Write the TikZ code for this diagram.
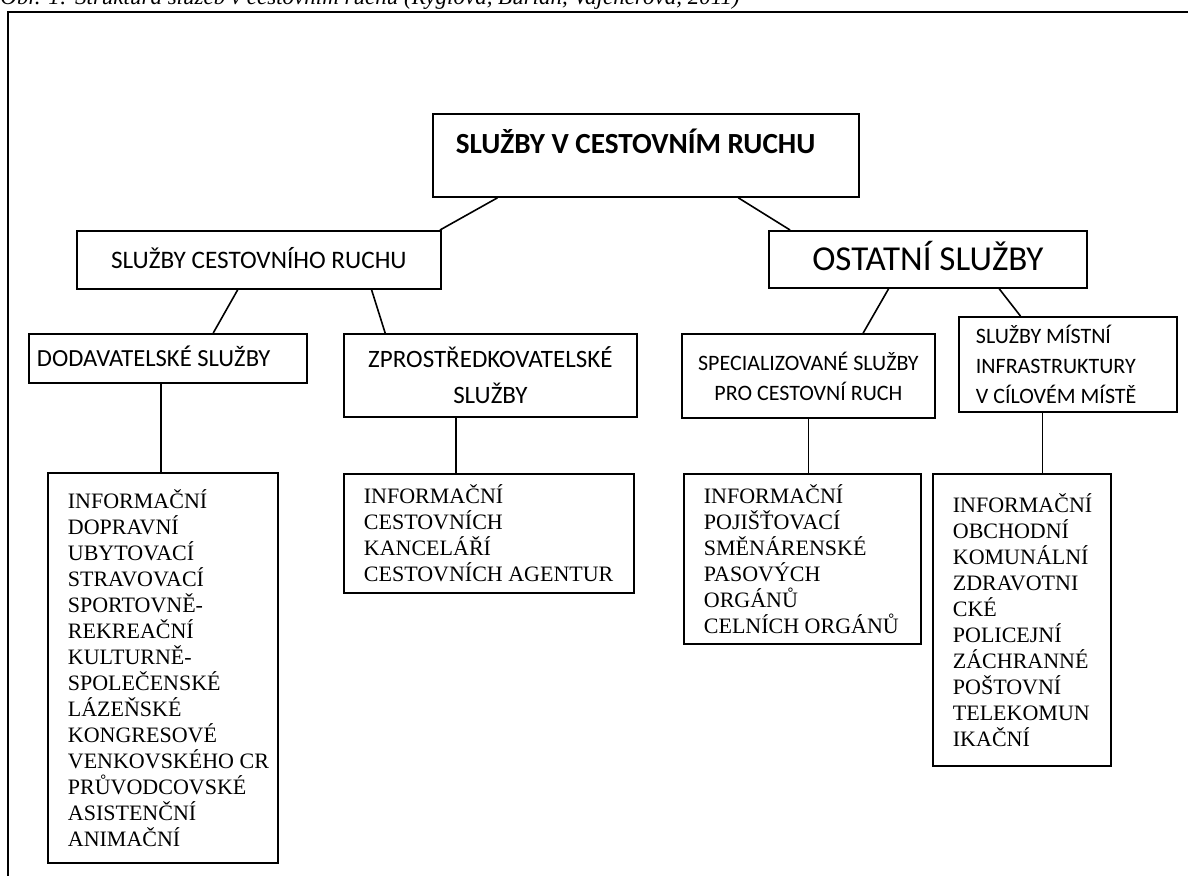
\documentclass[tikz,border=0pt]{standalone}
\usepackage{fontspec}
\setmainfont{Liberation Serif}
\newfontfamily\calibri{Carlito}
\usepackage{tikz}
\usetikzlibrary{calc}

\begin{document}
\begin{tikzpicture}[x=0.5pt,y=-0.5pt,
    box/.style={draw,line width=0.9pt,inner sep=0pt,anchor=north west,align=center},
    head/.style={box,font=\calibri\fontsize{11}{15}\selectfont},
    list/.style={draw,line width=0.9pt,anchor=north west,inner xsep=10pt,inner ysep=0pt,
        align=flush left,font=\fontsize{11}{13}\selectfont},
    conn/.style={line width=0.8pt}
]
    \useasboundingbox (0,0) rectangle (1188,875);
    \clip (0,0) rectangle (1188,875);
    % caption, cut at the top edge
    \node[anchor=base west,inner sep=0pt,font=\itshape\fontsize{11.5}{13}\selectfont] (caption)
        at (0,4) {Obr. 1: Struktura služeb v cestovním ruchu (Ryglová, Burian, Vajčnerová, 2011)};
    % frame
    \draw[line width=1pt] (8,890) -- (8,12) -- (1200,12);

    % level 1 and 2
    \node[box,minimum width=213pt,minimum height=41.5pt,text height=9.4pt,text depth=11pt,
        inner xsep=11.5pt,text width=190pt,align=flush left,
        font=\calibri\bfseries\fontsize{14.6}{17}\selectfont] (top) at (432,113)
        {\spaceskip=0pt SLUŽBY V CESTOVNÍM RUCHU};
    \node[box,minimum width=182pt,minimum height=29pt,text height=8.1pt,text depth=0pt,
        font=\calibri\fontsize{12.6}{15}\selectfont] (scr) at (76,230) {SLUŽBY CESTOVNÍHO RUCHU};
    \node[box,minimum width=159pt,minimum height=28.5pt,text height=11.2pt,text depth=0pt,
        font=\calibri\fontsize{17.5}{19}\selectfont] (ost) at (768,230) {OSTATNÍ SLUŽBY};

    % level 3
    \node[head,minimum width=139pt,minimum height=24.5pt,text height=7.9pt,text depth=0pt,
        inner xsep=4pt,text width=131pt,align=flush left,
        font=\calibri\fontsize{12.3}{15}\selectfont] (dod) at (28,333) {\spaceskip=0pt DODAVATELSKÉ SLUŽBY};
    \node[head,minimum width=146.5pt,minimum height=41.5pt,
        font=\calibri\fontsize{12.5}{18}\selectfont] (zpr) at (343,333) {ZPROSTŘEDKOVATELSKÉ\\SLUŽBY};
    \node[head,minimum width=126.5pt,minimum height=42pt] (spec) at (681,333)
        {SPECIALIZOVANÉ SLUŽBY\\PRO CESTOVNÍ RUCH};
    \node[head,minimum width=109pt,minimum height=47.5pt,inner xsep=8.5pt,text width=92pt,
        align=flush left] (mist) at (958,316) {\spaceskip=0pt SLUŽBY MÍSTNÍ\\INFRASTRUKTURY\\V CÍLOVÉM MÍSTĚ};

    % level 4
    \node[list,minimum width=115pt,minimum height=195pt,text width=95pt] (dodlist) at (47,472)
        {INFORMAČNÍ\\DOPRAVNÍ\\UBYTOVACÍ\\STRAVOVACÍ\\SPORTOVNĚ-\\REKREAČNÍ\\KULTURNĚ-\\SPOLEČENSKÉ\\%
         LÁZEŇSKÉ\\KONGRESOVÉ\\\mbox{VENKOVSKÉHO CR}\\PRŮVODCOVSKÉ\\ASISTENČNÍ\\ANIMAČNÍ};
    \node[list,minimum width=145pt,minimum height=59.5pt,text width=125pt] (zprlist) at (343,473)
        {INFORMAČNÍ\\CESTOVNÍCH\\KANCELÁŘÍ\\\mbox{CESTOVNÍCH AGENTUR}};
    \node[list,minimum width=118.5pt,minimum height=85pt,text width=98.5pt] (speclist) at (683,473)
        {INFORMAČNÍ\\POJIŠŤOVACÍ\\SMĚNÁRENSKÉ\\PASOVÝCH\\ORGÁNŮ\\\mbox{CELNÍCH ORGÁNŮ}};
    \node[list,minimum width=89pt,minimum height=146pt,text width=69pt] (mistlist) at (932,473)
        {INFORMAČNÍ\\OBCHODNÍ\\KOMUNÁLNÍ\\ZDRAVOTNI\\CKÉ\\POLICEJNÍ\\ZÁCHRANNÉ\\POŠTOVNÍ\\%
         TELEKOMUN\\IKAČNÍ};

    % connectors
    \draw[conn] ($(top.south west)!.153!(top.south east)$) -- ($(scr.north west)!.995!(scr.north east)$);
    \draw[conn] ($(top.south west)!.716!(top.south east)$) -- ($(ost.north west)!.069!(ost.north east)$);
    \draw[conn] ($(scr.south west)!.442!(scr.south east)$) -- ($(dod.north west)!.662!(dod.north east)$);
    \draw[conn] ($(scr.south west)!.808!(scr.south east)$) -- ($(zpr.north west)!.143!(zpr.north east)$);
    \draw[conn] ($(ost.south west)!.377!(ost.south east)$) -- ($(spec.north west)!.715!(spec.north east)$);
    \draw[conn] ($(ost.south west)!.723!(ost.south east)$) -- ($(mist.north west)!.284!(mist.north east)$);
    \draw[conn] ($(dod.south west)!.475!(dod.south east)$) coordinate (d1) -- (d1 |- dodlist.north);
    \draw[conn] ($(zpr.south west)!.383!(zpr.south east)$) coordinate (z1) -- (z1 |- zprlist.north);
    \draw[conn] (spec.south) -- (spec.south |- speclist.north);
    \draw[conn] ($(mist.south west)!.385!(mist.south east)$) coordinate (m1) -- (m1 |- mistlist.north);
\end{tikzpicture}
\end{document}
